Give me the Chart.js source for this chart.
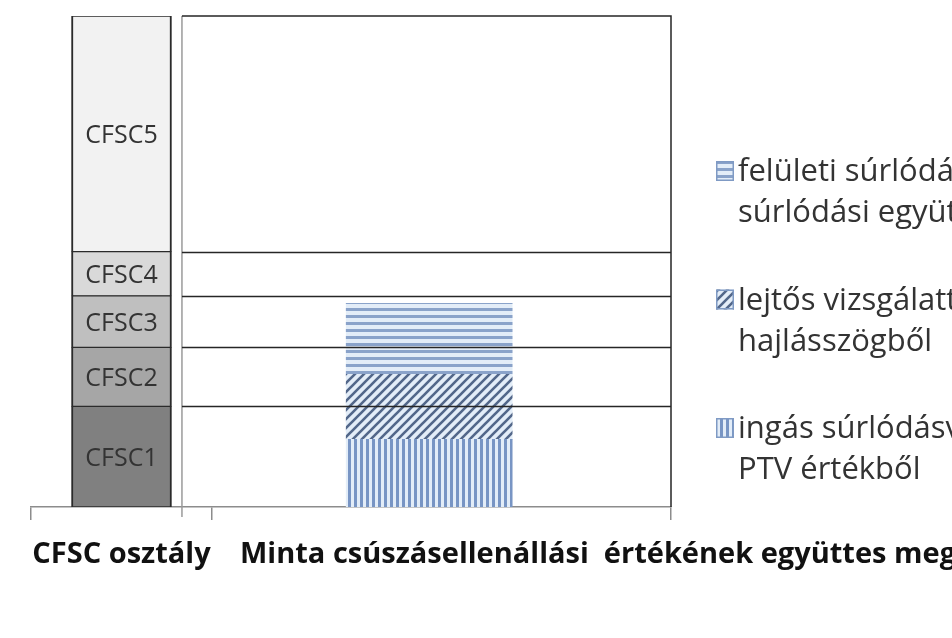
<!DOCTYPE html>
<html><head><meta charset="utf-8">
<script src="https://cdn.jsdelivr.net/npm/chart.js@4.4.1/dist/chart.umd.min.js"></script>
<style>html,body{margin:0;padding:0;background:#fff;overflow:hidden}canvas{display:block}</style>
</head><body>
<canvas id="c" width="952" height="638"></canvas>
<script>
// ---- data ----
const classLabels = ['CFSC1', 'CFSC2', 'CFSC3', 'CFSC4', 'CFSC5'];
const classValues = [20.5, 12, 10.5, 9, 48];
const classColors = ['#808080', '#a6a6a6', '#bfbfbf', '#d9d9d9', '#f2f2f2'];
const categories = ['CFSC osztály', 'Minta csúszásellenállási  értékének együttes megítélése'];
const categoryTicks = [0, 1, 3.536];
const categoryPositions = [0.5, 2.2];
const sampleLabels = [
  ['ingás súrlódásvizsgálóval mért', 'PTV értékből'],
  ['lejtős vizsgálattal mért', 'hajlásszögből'],
  ['felületi súrlódásmérővel mért', 'súrlódási együtthatóból']
];
const sampleValues = [13.8, 13.2, 14.5];
const samplePatterns = ['vertical', 'diagonal', 'horizontal'];

// ---- patterns ----
function makePattern(kind) {
  const c = document.createElement('canvas');
  const g = c.getContext('2d');
  if (kind === 'horizontal') {
    c.width = 7; c.height = 7;
    g.fillStyle = '#e3edf8'; g.fillRect(0, 0, 7, 7);
    g.fillStyle = '#8aa3ca'; g.fillRect(0, 0, 7, 3);
  } else if (kind === 'vertical') {
    c.width = 6; c.height = 6;
    g.fillStyle = '#e3edf8'; g.fillRect(0, 0, 6, 6);
    g.fillStyle = '#7895c4'; g.fillRect(0, 0, 3, 6);
  } else {
    c.width = 9; c.height = 9;
    g.fillStyle = '#e3edf8'; g.fillRect(0, 0, 9, 9);
    g.strokeStyle = '#52678a'; g.lineWidth = 2.6;
    g.beginPath();
    g.moveTo(-1, 10); g.lineTo(10, -1);
    g.moveTo(-5, 5); g.lineTo(5, -5);
    g.moveTo(4, 14); g.lineTo(14, 4);
    g.stroke();
  }
  return g.createPattern(c, 'repeat');
}

const classDatasets = classLabels.map((lab, i) => ({
  label: lab,
  data: [{ x: categoryPositions[0], y: classValues[i] }],
  backgroundColor: classColors[i],
  borderColor: '#2b2b2b',
  borderWidth: { top: 1, bottom: 1, left: 2, right: 2 },
  borderSkipped: false,
  maxBarThickness: 100,
  stack: 'class'
}));
const sampleDatasets = sampleLabels.map((lab, i) => ({
  label: lab.join(' '),
  legendLines: lab,
  patternKind: samplePatterns[i],
  data: [{ x: categoryPositions[1], y: sampleValues[i] }],
  backgroundColor: makePattern(samplePatterns[i]),
  borderWidth: 0,
  maxBarThickness: 166,
  stack: 'sample'
}));

// ---- plugins ----
const boxStart = 0.834;
const classGrid = {
  id: 'classGrid',
  afterDatasetsDraw(chart) {
    const { ctx, chartArea, scales: { x, y } } = chart;
    const left = x.getPixelForValue(boxStart);
    const right = chartArea.right;
    const total = classValues.reduce((a, b) => a + b, 0);
    ctx.save();
    ctx.strokeStyle = '#9a9a9a'; ctx.lineWidth = 1.5;
    ctx.beginPath(); ctx.moveTo(left, y.getPixelForValue(total)); ctx.lineTo(left, chartArea.bottom + 10); ctx.stroke();
    ctx.strokeStyle = '#262626'; ctx.lineWidth = 1.5;
    ctx.beginPath();
    ctx.moveTo(left, y.getPixelForValue(total)); ctx.lineTo(right, y.getPixelForValue(total));
    ctx.lineTo(right, chartArea.bottom);
    let cum = 0;
    for (let i = 0; i < classValues.length - 1; i++) {
      cum += classValues[i];
      const py = Math.round(y.getPixelForValue(cum)) + 0.5;
      ctx.moveTo(left, py); ctx.lineTo(right, py);
    }
    ctx.stroke();
    // class labels inside the left bar
    ctx.fillStyle = '#333';
    ctx.font = '25px "Open Sans"';
    ctx.textAlign = 'center'; ctx.textBaseline = 'middle';
    cum = 0;
    classValues.forEach((v, i) => {
      const mid = y.getPixelForValue(cum + v / 2) + 2;
      ctx.fillText(classLabels[i], x.getPixelForValue(categoryPositions[0]), mid);
      cum += v;
    });
    // category labels
    ctx.fillStyle = '#111';
    ctx.font = 'bold 29px "Open Sans"';
    ctx.textBaseline = 'alphabetic';
    ctx.textAlign = 'center';
    ctx.fillText(categories[0], x.getPixelForValue(categoryPositions[0]), chartArea.bottom + 56);
    ctx.textAlign = 'left';
    ctx.fillText(categories[1], x.getPixelForValue(categoryTicks[1]) + 28, chartArea.bottom + 56);
    ctx.restore();
  }
};

const sideLegend = {
  id: 'sideLegend',
  afterDraw(chart) {
    const { ctx } = chart;
    const o = chart.options.plugins.sideLegend;
    const items = chart.data.datasets.filter(d => d.legendLines).slice().reverse();
    ctx.save();
    items.forEach((d, k) => {
      const base = o.firstBaseline + k * o.entryGap;
      ctx.fillStyle = d.backgroundColor;
      ctx.fillRect(o.x, base - 20, 18, 20);
      ctx.strokeStyle = '#7f9ac4'; ctx.lineWidth = 1.5;
      ctx.strokeRect(o.x + 0.75, base - 19.25, 16.5, 18.5);
      ctx.fillStyle = '#333';
      ctx.font = '31px "Open Sans"';
      ctx.textAlign = 'left'; ctx.textBaseline = 'alphabetic';
      d.legendLines.forEach((t, j) => ctx.fillText(t, o.x + 22, base + j * o.lineHeight));
    });
    ctx.restore();
  }
};

new Chart(document.getElementById('c'), {
  type: 'bar',
  data: { datasets: [...classDatasets, ...sampleDatasets] },
  options: {
    responsive: false,
    devicePixelRatio: 1,
    animation: false,
    layout: { padding: { left: 31, right: 281, top: 16, bottom: 0 } },
    datasets: { bar: { grouped: false, categoryPercentage: 1, barPercentage: 1 } },
    plugins: {
      legend: { display: false },
      tooltip: { enabled: false },
      sideLegend: { x: 716, firstBaseline: 181, entryGap: 128.5, lineHeight: 41 }
    },
    scales: {
      x: {
        type: 'linear',
        offset: false,
        min: categoryTicks[0],
        max: categoryTicks[categoryTicks.length - 1],
        afterBuildTicks: s => { s.ticks = categoryTicks.map(v => ({ value: v })); },
        afterFit: s => { s.height = 131; },
        ticks: { display: false },
        grid: { offset: false, drawOnChartArea: false, drawTicks: true, tickLength: 13, color: '#8c8c8c', lineWidth: 1.5 },
        border: { display: true, color: '#8c8c8c', width: 1.5 }
      },
      y: { display: false, stacked: true, min: 0, max: 100 }
    }
  },
  plugins: [classGrid, sideLegend]
});
</script>
</body></html>
